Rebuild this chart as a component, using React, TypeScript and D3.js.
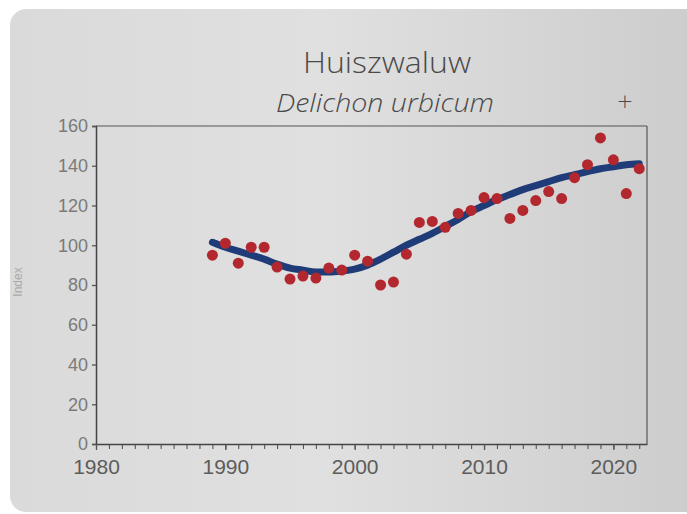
import * as d3 from "d3";
import React, {useEffect, useRef} from "react";

const years = d3.range(1989, 2023);

// yearly index (red dots)
const indexValues = [
    95, 101, 91, 99, 99, 89, 83, 84.5, 83.5, 88.5, 87.5, 95, 92, 80, 81.5, 95.5,
    111.5, 112, 109, 116, 117.5, 124, 123.5, 113.5, 117.5, 122.5, 127, 123.5,
    134, 140.5, 154, 143, 126, 138.5
];

// smoothed trend (blue line)
const trendValues = [
    101.5, 99, 97, 95, 93, 90.5, 88.5, 87.5, 86.5, 86.5, 87, 88, 90, 93, 96.5, 100,
    103, 106, 109.5, 113, 117, 120, 123, 125.5, 128, 130, 132, 134, 135.5, 137,
    138.5, 139.5, 140.5, 141
];

const yTicks = [0, 20, 40, 60, 80, 100, 120, 140, 160];
const xTicks = [1980, 1990, 2000, 2010, 2020];

const title = "Huiszwaluw";
const subtitle = "Delichon urbicum";
const yLabel = "Index";

const W = 687
const H = 514

const App = () => {
    const ref = useRef(null);

    useEffect(() => {
        const node = ref.current;
        if (!node) return;
        node.innerHTML = "";

        const x = d3.scaleLinear().domain([1980, 2022.6]).range([96, 647]);
        const y = d3.scaleLinear().domain([0, 160]).range([444, 126]);

        const svg = d3.select(node)
            .append("svg")
            .attr("width", W)
            .attr("height", H)
            .style("display", "block");

        const defs = svg.append("defs");
        const grad = defs.append("linearGradient").attr("id", "paper")
            .attr("x1", "0").attr("x2", "1").attr("y1", "0").attr("y2", "0");
        grad.append("stop").attr("offset", "0").attr("stop-color", "#d9dad9");
        grad.append("stop").attr("offset", "0.45").attr("stop-color", "#e0e0e0");
        grad.append("stop").attr("offset", "1").attr("stop-color", "#cbcccb");

        svg.append("rect").attr("width", W).attr("height", H).attr("fill", "#ffffff");
        svg.append("rect")
            .attr("x", 10).attr("y", 9)
            .attr("width", W + 10).attr("height", 503)
            .attr("rx", 16)
            .attr("fill", "url(#paper)");

        // titles
        svg.append("text")
            .attr("x", 303).attr("y", 73)
            .attr("font-family", "Open Sans")
            .attr("font-weight", 300)
            .attr("font-size", 29)
            .attr("textLength", 168)
            .attr("lengthAdjust", "spacingAndGlyphs")
            .attr("fill", "#4a4a4a")
            .text(title);

        svg.append("text")
            .attr("x", 276).attr("y", 112)
            .attr("font-family", "Open Sans")
            .attr("font-style", "italic")
            .attr("font-weight", 300)
            .attr("font-size", 25)
            .attr("textLength", 218)
            .attr("lengthAdjust", "spacingAndGlyphs")
            .attr("fill", "#4a4a4a")
            .text(subtitle);

        svg.append("text")
            .attr("x", 625).attr("y", 108)
            .attr("text-anchor", "middle")
            .attr("font-family", "DejaVu Sans")
            .attr("font-weight", 300)
            .attr("font-size", 20)
            .attr("fill", "#4a4a4a")
            .text("+");

        // y label
        svg.append("text")
            .attr("transform", "translate(22,282) rotate(-90)")
            .attr("text-anchor", "middle")
            .attr("font-family", "Liberation Sans")
            .attr("font-size", 12)
            .attr("fill", "#a9a9a9")
            .text(yLabel);

        // box
        const [x0, x1] = x.range();
        svg.append("line")
            .attr("x1", x0).attr("x2", x1)
            .attr("y1", y(160)).attr("y2", y(160))
            .attr("stroke", "#555").attr("stroke-width", 1.2);
        svg.append("line")
            .attr("x1", x1).attr("x2", x1)
            .attr("y1", y(160)).attr("y2", y(0))
            .attr("stroke", "#555").attr("stroke-width", 1.2);

        // y axis
        const yAxis = svg.append("g").attr("transform", `translate(${x0},0)`)
            .call(d3.axisLeft(y).tickValues(yTicks).tickSize(4).tickPadding(4).tickFormat(d3.format("d")));
        yAxis.select(".domain").attr("stroke", "#444").attr("stroke-width", 1.5);
        yAxis.selectAll(".tick line").attr("stroke", "#555").attr("stroke-width", 1.3);
        yAxis.selectAll(".tick text")
            .attr("font-family", "Liberation Sans")
            .attr("font-size", 18)
            .attr("fill", "#7a7a7a");

        // x axis: minor yearly ticks
        const xMinor = svg.append("g").attr("transform", `translate(0,${y(0)})`)
            .call(d3.axisBottom(x).tickValues(d3.range(1980, 2023)).tickSize(5).tickFormat(() => ""));
        xMinor.select(".domain").remove();
        xMinor.selectAll(".tick line").attr("stroke", "#555").attr("stroke-width", 1.1);

        const xAxis = svg.append("g").attr("transform", `translate(0,${y(0)})`)
            .call(d3.axisBottom(x).tickValues(xTicks).tickSize(6).tickPadding(9).tickFormat(d3.format("d")).tickSizeOuter(0));
        xAxis.select(".domain").attr("stroke", "#444").attr("stroke-width", 1.5);
        xAxis.selectAll(".tick line").attr("stroke", "#555").attr("stroke-width", 1.3);
        xAxis.selectAll(".tick text")
            .attr("font-family", "Liberation Sans")
            .attr("font-size", 21)
            .attr("fill", "#5c5c5c");

        // trend line
        const line = d3.line()
            .x((d, i) => x(years[i]))
            .y(d => y(d))
            .curve(d3.curveMonotoneX);

        svg.append("path")
            .datum(trendValues)
            .attr("fill", "none")
            .attr("stroke", "#203c78")
            .attr("stroke-width", 7)
            .attr("stroke-linecap", "round")
            .attr("d", line);

        // dots
        svg.append("g")
            .selectAll("circle")
            .data(indexValues)
            .join("circle")
            .attr("cx", (d, i) => x(years[i]))
            .attr("cy", d => y(d))
            .attr("r", 5.5)
            .attr("fill", "#b3282e");
    }, []);

    return (
        <div ref={ref} style={{position: "absolute", left: 0, top: 0}}/>
    )
}

export default App;
